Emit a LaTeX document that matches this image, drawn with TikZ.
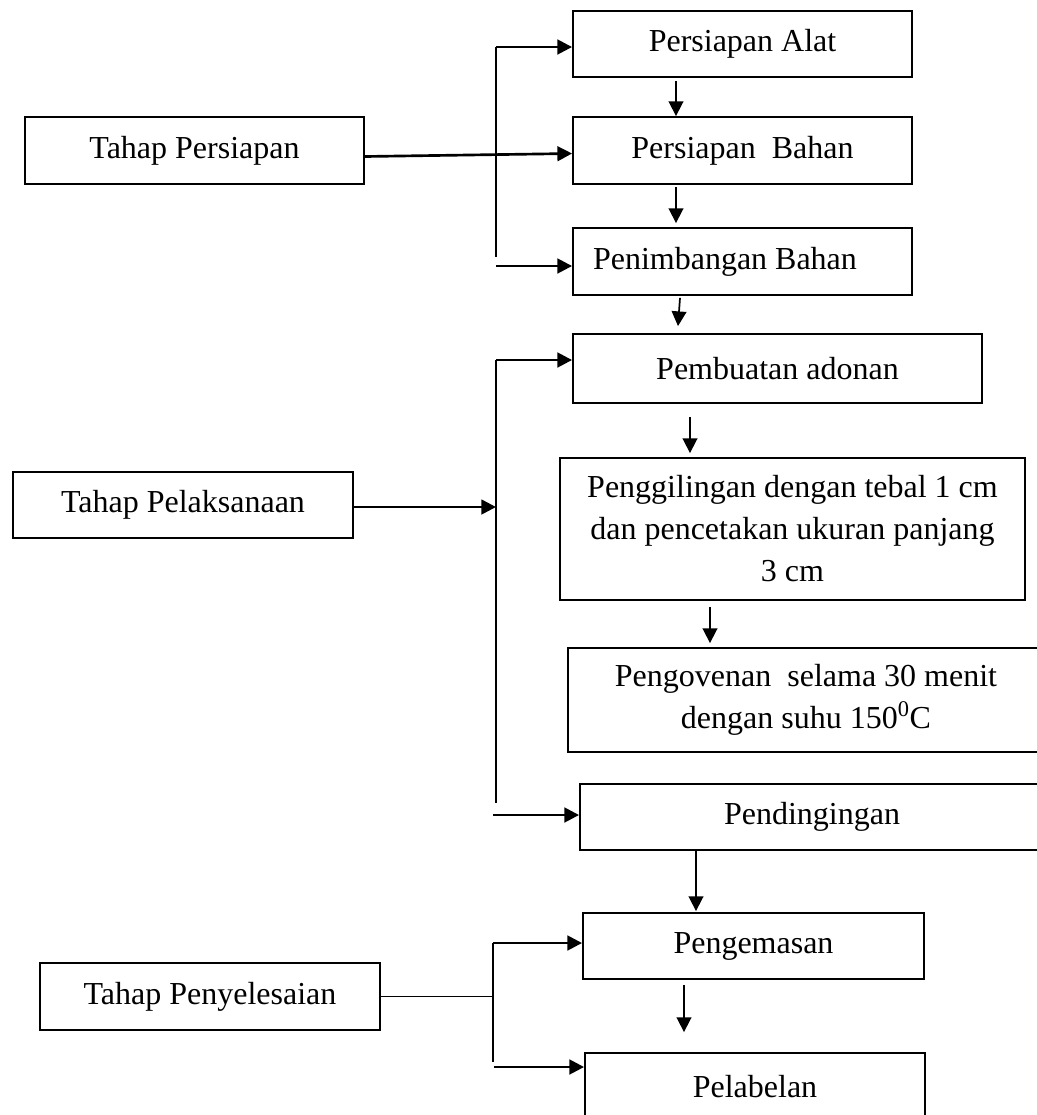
\documentclass[tikz,border=0pt]{standalone}
\usepackage{fontspec}
\setmainfont{Liberation Serif}
\usetikzlibrary{arrows.meta,calc}
\begin{document}
\begin{tikzpicture}[x=0.75pt,y=-0.75pt,
  box/.style={draw,line width=1.4pt,inner sep=0pt,align=center,font=\fontsize{24}{31.5}\selectfont},
  harrow/.style={line width=2pt,-{Triangle[length=11pt,width=11pt]}},
  varrow/.style={line width=1.3pt,-{Triangle[length=11pt,width=11pt]}},
  branch/.style={line width=1.2pt}]
\useasboundingbox (0,0) rectangle (1037,1115);
\clip (0,0) rectangle (1037,1115);
\fill[white] (0,0) rectangle (1037,1115);

% boxes
\node[box,minimum width=254.25pt,minimum height=49.5pt] (alat) at (742.5,44) {Persiapan Alat};
\node[box,minimum width=254.25pt,minimum height=50.25pt] (tp) at (194.5,150.5) {Tahap Persiapan};
\node[box,minimum width=254.25pt,minimum height=50.25pt] (bahan) at (742.5,150.5) {Persiapan\ \ Bahan};
\node[box,minimum width=254.25pt,minimum height=50.25pt] (timbang) at (742.5,261.5) {\makebox[254.25pt][l]{\hspace*{15pt}Penimbangan Bahan}};
\node[box,minimum width=306.75pt,minimum height=51.75pt] (adonan) at (777.5,368.5) {Pembuatan adonan};
\node[box,minimum width=255pt,minimum height=49.5pt] (tpl) at (183,505) {Tahap Pelaksanaan};
\node[box,minimum width=348.75pt,minimum height=106.5pt] (giling) at (792.5,529) {Penggilingan dengan tebal 1 cm\\dan pencetakan ukuran panjang\\3 cm};
\node[box,minimum width=357pt,minimum height=78pt] (oven) at (806,700) {Pengovenan\ \ selama 30 menit\\dengan suhu 150\textsuperscript{0}C};
\node[box,minimum width=348pt,minimum height=49.5pt] (dingin) at (812,817) {Pendingingan};
\node[box,minimum width=255.75pt,minimum height=49.5pt] (kemas) at (753.5,946) {Pengemasan};
\node[box,minimum width=255pt,minimum height=50.25pt] (label) at (755,1086.5) {Pelabelan};
\node[box,minimum width=255pt,minimum height=50.25pt] (tps) at (210,996.5) {Tahap Penyelesaian};

% group 1
\coordinate (b1t) at (496,47);
\coordinate (b1b) at (496,257);
\coordinate (b1a) at (496,266);
\draw[branch] (b1t) -- (b1b);
\draw[harrow] (b1t) -- (alat.west |- b1t);
\draw[harrow] ($(tp.east)+(0,6)$) -- ($(bahan.west)+(0,3)$);
\draw[harrow] (b1a) -- (timbang.west |- b1a);

% group 2
\coordinate (b2t) at (496,360);
\coordinate (b2b) at (496,803);
\coordinate (b2m) at (496,507);
\coordinate (b2a) at (493,815);
\draw[branch] (b2t) -- (b2b);
\draw[harrow] (b2t) -- (adonan.west |- b2t);
\draw[harrow] (tpl.east |- b2m) -- (b2m);
\draw[harrow] (b2a) -- (dingin.west |- b2a);

% group 3
\coordinate (b3t) at (493,943);
\coordinate (b3b) at (493,1062);
\coordinate (b3a) at (494,1067);
\draw[branch] (b3t) -- (b3b);
\draw[harrow] (b3t) -- (kemas.west |- b3t);
\draw[branch] (tps.east) -- (b3t |- tps.east);
\draw[harrow] (b3a) -- (label.west |- b3a);

% vertical flow
\draw[varrow] ($(alat.south)+(-66.5,3)$) -- ($(bahan.north)+(-66.5,0)$);
\draw[varrow] ($(bahan.south)+(-66.5,2)$) -- ($(timbang.north)+(-66.5,-4)$);
\draw[varrow] ($(timbang.south)+(-62.5,2)$) -- ($(adonan.north)+(-99.5,-7)$);
\draw[varrow] ($(adonan.south)+(-87.5,13)$) -- ($(giling.north)+(-102.5,-4)$);
\draw[varrow] ($(giling.south)+(-82.5,6)$) -- ($(oven.north)+(-96,-4)$);
\draw[varrow] ($(dingin.south)+(-116,0)$) -- ($(kemas.north)+(-57.5,-1)$);
\draw[varrow] ($(kemas.south)+(-69.5,5)$) -- ($(label.north)+(-71,-20)$);
\end{tikzpicture}
\end{document}
